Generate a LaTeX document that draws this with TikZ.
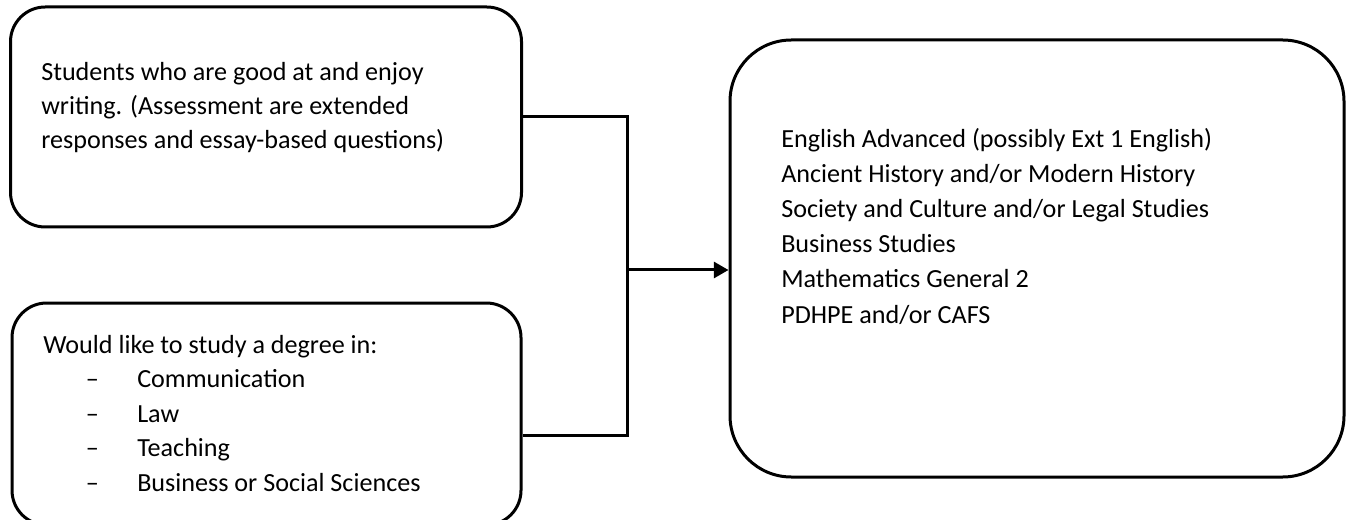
\documentclass[tikz,border=0pt]{standalone}
\usepackage{fontspec}
\setmainfont{Carlito}
\usetikzlibrary{arrows.meta}

\newcommand{\degitem}[1]{\hspace*{32pt}\makebox[38.5pt][l]{\textendash}#1}

\tikzset{
  box/.style={draw, line width=2.25pt, rounded corners=26pt, inner sep=0pt},
  boxtext/.style={anchor=base west, inner sep=0pt, align=left, font=\fontsize{19.6}{25.8}\selectfont},
  wire/.style={line width=2.25pt},
}

\begin{document}
\begin{tikzpicture}[x=0.75pt,y=0.75pt,yscale=-1,xscale=1]
\useasboundingbox (0,0) rectangle (1352,520);

%Rounded Rect: writing
\node [box, minimum width=383.25pt, minimum height=165pt] (writing) at (266,117) {};
%Rounded Rect: degree (runs past the bottom)
\node [box, minimum width=381.75pt, minimum height=166.5pt] (degree) at (266.5,414) {};
%Rounded Rect: subjects
\node [box, rounded corners=46pt, minimum width=460.5pt, minimum height=327.75pt] (subjects) at (1037,258.5) {};

%Join point
\coordinate (join) at (627,270);

%Straight Lines
\draw [wire] (writing.east) -| (join) |- ([yshift=15.75pt]degree.east);
\draw [wire, -{Triangle[length=11pt,width=12pt]}] (join) -- (join -| subjects.west);

% Text Node (base = last line)
\node [boxtext] (writingtext) at (41,149) {Students who are good at and enjoy\\writing. (Assessment are extended\\responses and essay-based questions)};
% Text Node
\node [boxtext] (degreetext) at (43,491) {Would like to study a degree in:\\\degitem{Communication}\\\degitem{Law}\\\degitem{Teaching}\\\degitem{Business or Social Sciences}};
% Text Node
\node [boxtext, font=\fontsize{19.6}{26.4}\selectfont] (subjectstext) at (781,323) {English Advanced (possibly Ext 1 English)\\Ancient History and/or Modern History\\Society and Culture and/or Legal Studies\\Business Studies\\Mathematics General 2\\PDHPE and/or CAFS};

\end{tikzpicture}
\end{document}
